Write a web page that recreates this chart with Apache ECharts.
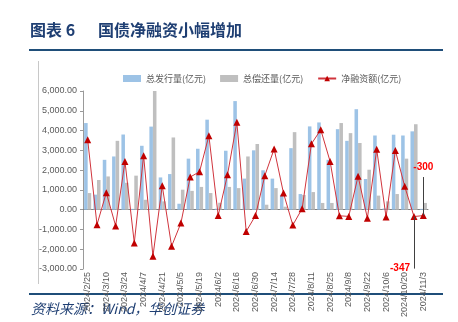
<!DOCTYPE html>
<html><head><meta charset="utf-8">
<script src="https://cdn.jsdelivr.net/npm/echarts@6/dist/echarts.min.js"></script>
<style>html,body{margin:0;padding:0;background:#fff;}#c{width:458px;height:322px;}</style>
</head><body><div id="c"></div>
<script>
const categories = ['2024/2/25','2024/3/3','2024/3/10','2024/3/17','2024/3/24','2024/3/31','2024/4/7','2024/4/14','2024/4/21','2024/4/28','2024/5/5','2024/5/12','2024/5/19','2024/5/26','2024/6/2','2024/6/9','2024/6/16','2024/6/23','2024/6/30','2024/7/7','2024/7/14','2024/7/21','2024/7/28','2024/8/4','2024/8/11','2024/8/18','2024/8/25','2024/9/1','2024/9/8','2024/9/15','2024/9/22','2024/9/29','2024/10/6','2024/10/13','2024/10/20','2024/10/27','2024/11/3'];
const issuance = [4380,760,2520,2690,3800,40,3230,4200,1630,1800,300,2580,3080,4550,50,2980,5490,1570,3000,1990,1570,760,3110,790,4210,4410,2520,4070,3480,5080,1550,3750,60,3790,3750,3960,40];
const repayment = [840,1500,1680,3480,1360,1720,500,6050,420,3650,1010,950,1150,840,350,1150,1090,2690,3320,250,1090,150,3920,740,890,340,340,4380,3870,3370,2020,710,420,790,2580,4320,340];
const netFinancing = [3540,-760,860,-820,2440,-1680,2730,-2360,1210,-1850,-680,1650,1920,3740,-300,1770,4420,-1100,-300,1720,3070,840,-780,50,3330,4040,2440,-310,-340,1690,-430,3050,-370,2990,1180,-347,-300];
const yTicks = {min:-3000, max:6000, interval:1000};

const chart = echarts.init(document.getElementById('c'));
const navy = '#1F3F73';
chart.setOption({
  animation:false,
  textStyle:{fontFamily:'"Liberation Sans", "Noto Sans CJK SC", sans-serif'},
  grid:{left:83, right:30, top:91, bottom:53},
  legend:{
    top:69, left:118, itemWidth:18, itemHeight:7, itemGap:14,
    textStyle:{fontSize:9, color:'#595959', fontFamily:'"Noto Sans CJK SC", sans-serif'},
    data:[{name:'总发行量(亿元)', icon:'rect'},{name:'总偿还量(亿元)', icon:'rect'},{name:'净融资额(亿元)'}]
  },
  xAxis:{
    type:'category', data:categories,
    axisLine:{onZero:true, lineStyle:{color:'#7f7f7f', width:1}},
    axisTick:{show:false},
    axisLabel:{rotate:90, interval:1, fontSize:9, color:'#595959', margin:3}
  },
  yAxis:{
    type:'value', min:yTicks.min, max:yTicks.max, interval:yTicks.interval,
    splitLine:{show:false},
    axisLine:{show:true, lineStyle:{color:'#9a9a9a'}},
    axisTick:{show:true, length:3, lineStyle:{color:'#9a9a9a'}},
    axisLabel:{fontSize:9, color:'#595959', margin:6,
      formatter:v=>v.toLocaleString('en-US',{minimumFractionDigits:2, maximumFractionDigits:2})}
  },
  series:[
    {name:'总发行量(亿元)', type:'bar', data:issuance, barGap:'0%', barCategoryGap:'24%',
     itemStyle:{color:'#9DC3E6'}},
    {name:'总偿还量(亿元)', type:'bar', data:repayment, barGap:'0%', barCategoryGap:'24%',
     itemStyle:{color:'#BFBFBF'}},
    {name:'净融资额(亿元)', type:'line', data:netFinancing, symbol:'triangle', symbolSize:7, showAllSymbol:true,
     lineStyle:{color:'#D0343C', width:1}, itemStyle:{color:'#C00000'},
     markLine:{silent:true, symbol:'none', label:{show:false},
       lineStyle:{color:'#404040', width:1, type:'solid'},
       data:[
         [{coord:['2024/10/27',-347]},{coord:['2024/10/27',-2980]}],
         [{coord:['2024/11/3',-300]},{coord:['2024/11/3',1650]}]
       ]},
     markPoint:{silent:true, symbol:'circle', symbolSize:0,
       label:{show:true, color:'#FF0000', fontWeight:'bold', fontSize:10},
       data:[
         {coord:['2024/10/27',-2980], label:{formatter:'-347', offset:[-14,0]}},
         {coord:['2024/11/3',2120], label:{formatter:'-300', offset:[0,0]}}
       ]}
    }
  ],
  graphic:[
    {type:'text', left:30, top:22, style:{text:'图表 6', fontSize:16, fontWeight:'bold', fill:navy, fontFamily:'"Noto Sans CJK SC", sans-serif'}},
    {type:'text', left:98, top:22, style:{text:'国债净融资小幅增加', fontSize:16, fontWeight:'bold', fill:navy, fontFamily:'"Noto Sans CJK SC", sans-serif'}},
    {type:'line', shape:{x1:29, y1:50, x2:443, y2:50}, style:{stroke:'#1F4E79', lineWidth:2}},
    {type:'line', shape:{x1:38.5, y1:61, x2:38.5, y2:284}, style:{stroke:'#c8c8c8', lineWidth:1}},
    {type:'line', shape:{x1:29, y1:294, x2:443, y2:294}, style:{stroke:'#1F4E79', lineWidth:2}},
    {type:'text', left:31, top:302, style:{text:'资料来源：Wind，华创证券', fontSize:14, fontStyle:'italic', fill:navy, fontFamily:'"Noto Sans CJK SC", serif'}}
  ]
});
</script></body></html>
